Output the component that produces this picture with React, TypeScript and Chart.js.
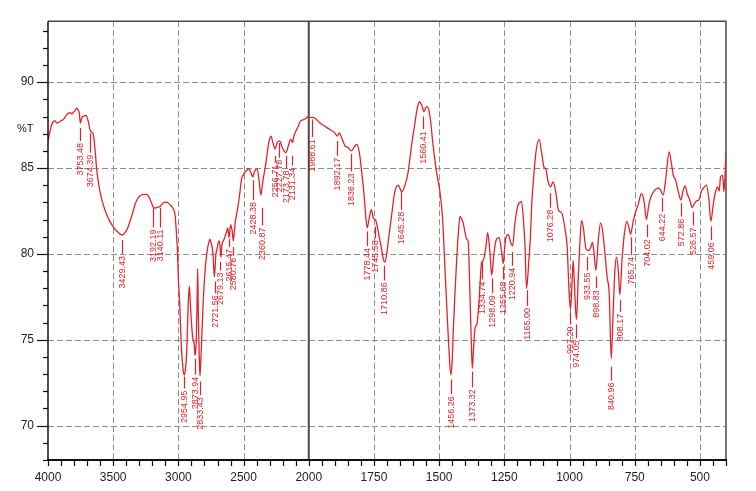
import { useEffect, useRef } from "react";
import { Chart, registerables } from "chart.js";

Chart.register(...registerables);

// ---- Spectrum data (wavenumber cm-1, %T) ----
const wavenumbers = [
  3999, 3990, 3975, 3959, 3945, 3933, 3920, 3908, 3895, 3883, 3870, 3857, 3843, 3831, 3818, 3806, 3793, 3780, 3770, 3760,
  3752, 3745, 3737, 3729, 3720, 3709, 3700, 3691, 3680, 3673, 3663, 3655, 3647, 3637, 3627, 3614, 3601, 3589, 3576, 3563,
  3550, 3530, 3511, 3490, 3473, 3455, 3435, 3420, 3410, 3390, 3371, 3350, 3333, 3314, 3294, 3270, 3243, 3225, 3205, 3192,
  3179, 3160, 3141, 3120, 3095, 3075, 3051, 3038, 3026, 3018, 3013, 3007, 3001, 2994, 2988, 2982, 2975, 2968, 2962, 2955,
  2949, 2942, 2936, 2930, 2924, 2916, 2910, 2904, 2898, 2890, 2884, 2880, 2876, 2873, 2868, 2862, 2856, 2852, 2848, 2843,
  2838, 2834, 2828, 2821, 2815, 2809, 2800, 2791, 2775, 2765, 2758, 2748, 2737, 2730, 2724, 2718, 2712, 2706, 2694, 2686,
  2679, 2673, 2668, 2662, 2656, 2647, 2637, 2630, 2622, 2617, 2612, 2606, 2599, 2592, 2587, 2579, 2572, 2566, 2554, 2541,
  2528, 2515, 2502, 2489, 2476, 2464, 2455, 2445, 2430, 2420, 2412, 2395, 2380, 2367, 2358, 2349, 2328, 2311, 2300, 2290,
  2275, 2259, 2247, 2234, 2221, 2208, 2190, 2175, 2157, 2139, 2124, 2114, 2093, 2080, 2067, 2042, 2020, 2004, 1995, 1989,
  1976, 1957, 1938, 1919, 1900, 1891, 1883, 1874, 1861, 1849, 1836, 1827, 1816, 1806, 1797, 1788, 1781, 1776, 1768, 1760,
  1753, 1746, 1742, 1734, 1721, 1714, 1708, 1701, 1695, 1682, 1670, 1657, 1650, 1644, 1631, 1619, 1606, 1593, 1585, 1576,
  1567, 1558, 1552, 1546, 1535, 1523, 1510, 1497, 1487, 1478, 1469, 1462, 1455, 1450, 1446, 1440, 1433, 1426, 1420, 1414,
  1408, 1400, 1395, 1389, 1382, 1377, 1373, 1368, 1363, 1354, 1346, 1337, 1331, 1321, 1314, 1308, 1303, 1299, 1294, 1290,
  1280, 1270, 1261, 1254, 1249, 1244, 1235, 1226, 1218, 1210, 1197, 1184, 1177, 1171, 1165, 1160, 1156, 1150, 1145, 1139,
  1129, 1117, 1107, 1098, 1091, 1082, 1073, 1063, 1053, 1043, 1030, 1018, 1009, 1001, 996, 990, 986, 982, 976, 973,
  967, 960, 954, 947, 937, 928, 919, 912, 907, 899, 890, 881, 873, 864, 856, 848, 840, 833, 826, 820,
  813, 807, 798, 790, 781, 772, 766, 756, 746, 737, 724, 714, 705, 696, 685, 673, 660, 651, 641, 631,
  618, 610, 602, 593, 583, 573, 564, 557, 549, 539, 530, 522, 513, 504, 494, 485, 475, 466, 458, 449,
  440, 432, 426, 421, 413, 408, 404, 400,
];

const transmittance = [
  86.6, 86.95, 87.45, 87.71, 87.75, 87.62, 87.65, 87.71, 87.78, 87.81, 87.95, 88.1, 88.2, 88.23, 88.15, 88.23, 88.35, 88.48, 88.4, 88.19,
  87.62, 87.8, 88.0, 88.0, 88.05, 88.06, 87.95, 87.71, 87.3, 87.14, 87.09, 87.0, 86.67, 85.9, 84.95, 84.2, 83.62, 83.2, 82.86, 82.55,
  82.29, 81.95, 81.71, 81.48, 81.33, 81.2, 81.1, 81.15, 81.24, 81.5, 81.9, 82.4, 82.86, 83.2, 83.39, 83.47, 83.47, 83.3, 82.95, 82.72,
  82.67, 82.72, 82.76, 82.95, 83.01, 82.95, 82.76, 82.6, 82.29, 81.6, 80.95, 80.19, 78.67, 77.7, 76.76, 75.5, 74.29, 73.6, 73.14, 72.95,
  73.1, 73.6, 74.29, 75.8, 77.2, 78.13, 77.4, 76.5, 75.81, 75.14, 74.9, 74.86, 74.4, 74.1, 74.3, 75.2, 77.5, 79.14, 77.0, 75.0,
  73.5, 72.9, 73.8, 75.05, 76.2, 77.33, 78.5, 79.43, 80.38, 80.7, 80.86, 80.6, 80.19, 79.4, 78.67, 79.3, 80.0, 80.19, 80.67, 80.76,
  80.3, 79.81, 80.4, 80.67, 80.76, 80.9, 81.14, 81.3, 81.52, 81.3, 80.95, 81.3, 81.71, 81.5, 81.33, 80.76, 81.2, 81.71, 82.3, 82.86,
  83.6, 84.38, 84.6, 84.76, 84.85, 84.95, 84.9, 84.76, 84.48, 84.7, 84.86, 84.95, 84.19, 83.43, 83.9, 84.38, 85.33, 86.29, 86.7, 86.86,
  86.48, 86.1, 86.38, 86.57, 86.57, 86.29, 86.0, 85.9, 86.29, 86.67, 86.48, 86.86, 87.24, 87.43, 87.71, 87.81, 87.9, 88.0, 87.95, 87.95,
  87.9, 87.62, 87.43, 87.24, 87.05, 86.86, 87.05, 86.76, 86.29, 86.19, 86.0, 86.19, 86.38, 85.9, 84.76, 83.43, 82.1, 81.52, 82.1, 82.57,
  82.1, 82.0, 81.9, 81.33, 80.3, 79.7, 79.52, 80.0, 80.76, 82.29, 83.62, 84.0, 83.8, 83.62, 84.0, 84.76, 86.29, 87.62, 88.4, 88.86,
  88.67, 88.29, 88.5, 88.57, 88.0, 86.29, 84.76, 83.62, 82.1, 79.24, 76.38, 74.3, 72.95, 73.8, 75.43, 77.5, 79.62, 81.3, 82.19, 82.05,
  81.81, 81.2, 80.86, 80.76, 77.71, 75.0, 73.33, 74.5, 75.62, 76.0, 77.52, 79.52, 79.62, 80.38, 81.24, 80.57, 79.6, 78.76, 79.3, 80.0,
  80.86, 80.95, 80.19, 79.43, 80.3, 80.95, 81.14, 80.67, 80.48, 81.71, 82.86, 83.05, 82.0, 80.57, 78.0, 78.7, 79.62, 81.0, 82.86, 84.19,
  85.9, 86.67, 85.9, 85.05, 84.95, 84.19, 83.9, 84.19, 83.62, 82.57, 82.38, 81.52, 80.38, 77.52, 76.76, 78.48, 79.62, 78.48, 76.57, 76.19,
  78.48, 80.76, 81.94, 81.52, 80.29, 80.19, 80.38, 80.67, 80.19, 79.05, 80.76, 81.81, 81.33, 80.0, 78.67, 77.71, 73.9, 76.57, 79.05, 79.81,
  79.05, 77.62, 79.81, 81.14, 81.9, 81.52, 81.14, 81.9, 82.48, 82.86, 83.52, 83.05, 82.0, 82.86, 83.43, 83.71, 83.85, 83.71, 83.43, 84.38,
  85.94, 85.33, 84.57, 84.29, 83.62, 83.14, 83.71, 83.96, 83.52, 83.14, 82.71, 82.9, 83.09, 83.14, 83.66, 83.85, 84.0, 83.24, 81.9, 82.86,
  83.62, 83.9, 83.66, 84.48, 84.57, 83.62, 84.57, 85.9,
];

// ---- Peak annotations ----
const peakLabels = [
  "3753.48", "3674.39", "3429.43", "3192.19", "3140.11", "2954.95", "2873.94", "2833.43", "2721.56", "2679.13",
  "2615.47", "2580.76", "2428.38", "2360.87", "2256.71", "2227.78", "2173.78", "2131.34", "1988.61", "1892.17",
  "1836.23", "1778.44", "1745.58", "1710.86", "1645.28", "1560.41", "1456.26", "1373.32", "1334.74", "1298.09",
  "1255.68", "1220.94", "1165.00", "1076.28", "997.20", "974.05", "933.55", "898.83", "840.96", "808.17",
  "765.74", "704.02", "644.22", "572.86", "526.57", "459.06",
];
// %T where each marker line starts and ends
const peakLineTop = [
  87.33, 87.03, 80.8, 82.69, 82.69, 72.86, 73.89, 72.57, 78.4, 79.54,
  80.86, 80.4, 84.29, 82.69, 85.71, 86.46, 85.71, 85.71, 87.83, 86.57,
  85.83, 81.31, 81.6, 79.31, 83.6, 88.0, 72.69, 73.14, 79.54, 78.57,
  79.26, 80.11, 77.89, 83.54, 76.57, 75.89, 79.83, 78.69, 73.43, 77.31,
  80.97, 81.71, 83.26, 82.97, 82.46, 81.6,
];
const peakLineBottom = [
  86.57, 85.89, 80.0, 81.54, 81.54, 72.17, 72.97, 71.77, 77.71, 79.03,
  80.4, 79.89, 83.14, 81.66, 85.31, 85.6, 84.97, 85.14, 86.8, 85.71,
  84.8, 80.46, 80.91, 78.46, 82.57, 87.26, 71.83, 72.23, 78.51, 77.71,
  78.51, 79.31, 76.97, 82.69, 75.89, 75.09, 79.03, 78.0, 72.63, 76.63,
  79.94, 80.97, 82.46, 82.17, 81.66, 80.8,
];

// ---- Axis ----
const yTickValues = [70, 75, 80, 85, 90];
const xTickLabels = [4000, 3500, 3000, 2500, 2000, 1750, 1500, 1250, 1000, 750, 500];
const Y_MIN = 68;
const Y_MAX = 93.55;
const X_LEFT = 4000;
const X_BREAK = 2000;
const X_RIGHT = 400;

// Spectrometer axis: 4000-2000 compressed by 2x, below 2000 full scale
function toPos(w: number): number {
  return w >= X_BREAK ? (X_LEFT - w) / 2 : (X_LEFT - X_BREAK) / 2 + (X_BREAK - w);
}
const POS_MAX = toPos(X_RIGHT);

const RED = "#e3232b";

const framePlugin = {
  id: "irFrame",
  beforeDatasetsDraw(chart: any) {
    const { ctx, chartArea: a, scales } = chart;
    const xs = scales.x;
    const ys = scales.y;
    ctx.save();
    // horizontal dashed grid
    ctx.strokeStyle = "#8e8e8e";
    ctx.lineWidth = 1;
    ctx.setLineDash([6, 3]);
    for (const v of yTickValues) {
      const y = Math.round(ys.getPixelForValue(v)) + 0.5;
      ctx.beginPath();
      ctx.moveTo(a.left, y);
      ctx.lineTo(a.right, y);
      ctx.stroke();
    }
    // vertical dashed grid
    for (const w of xTickLabels) {
      if (w === X_LEFT || w === X_BREAK) continue;
      const x = Math.round(xs.getPixelForValue(toPos(w))) + 0.5;
      ctx.beginPath();
      ctx.moveTo(x, a.top);
      ctx.lineTo(x, a.bottom);
      ctx.stroke();
    }
    ctx.setLineDash([]);
    // solid break line at 2000
    const xb = xs.getPixelForValue(toPos(X_BREAK));
    ctx.strokeStyle = "#4a4a4a";
    ctx.lineWidth = 2;
    ctx.beginPath();
    ctx.moveTo(xb, a.top);
    ctx.lineTo(xb, a.bottom);
    ctx.stroke();
    // top and right frame
    ctx.strokeStyle = "#4a4a4a";
    ctx.lineWidth = 1.5;
    ctx.beginPath();
    ctx.moveTo(a.left, a.top);
    ctx.lineTo(a.right, a.top);
    ctx.lineTo(a.right, a.bottom);
    ctx.stroke();
    ctx.restore();
  },
  afterDatasetsDraw(chart: any) {
    const { ctx, chartArea: a, scales } = chart;
    const xs = scales.x;
    const ys = scales.y;
    ctx.save();
    // axis lines
    ctx.strokeStyle = "#111";
    ctx.lineWidth = 1.5;
    ctx.beginPath();
    ctx.moveTo(a.left, a.top);
    ctx.lineTo(a.left, a.bottom);
    ctx.stroke();
    ctx.lineWidth = 2;
    ctx.beginPath();
    ctx.moveTo(a.left - 1, a.bottom);
    ctx.lineTo(a.right + 1, a.bottom);
    ctx.stroke();
    // y ticks every 1 %T
    ctx.lineWidth = 1.2;
    for (let v = Math.ceil(Y_MIN); v <= Math.floor(Y_MAX); v++) {
      const y = Math.round(ys.getPixelForValue(v)) + 0.5;
      const len = v % 5 === 0 ? 11 : 5;
      ctx.beginPath();
      ctx.moveTo(a.left - len, y);
      ctx.lineTo(a.left, y);
      ctx.stroke();
    }
    // x ticks every 50 axis units
    for (let p = 0; p <= POS_MAX + 0.01; p += 50) {
      const x = Math.round(xs.getPixelForValue(p)) + 0.5;
      ctx.beginPath();
      ctx.moveTo(x, a.bottom);
      ctx.lineTo(x, a.bottom + 6);
      ctx.stroke();
    }
    // %T title
    ctx.fillStyle = "#222";
    ctx.font = "11px 'Liberation Sans', Arial, sans-serif";
    ctx.textAlign = "left";
    ctx.textBaseline = "middle";
    ctx.fillText("%T", 17, ys.getPixelForValue(87.3));

    // peak labels
    ctx.strokeStyle = RED;
    ctx.fillStyle = RED;
    ctx.lineWidth = 1.2;
    ctx.font = "9px 'Liberation Sans', Arial, sans-serif";
    peakLabels.forEach((label, i) => {
      const x = Math.round(xs.getPixelForValue(toPos(Number(label)))) + 0.5;
      const y1 = ys.getPixelForValue(peakLineTop[i]);
      const y2 = ys.getPixelForValue(peakLineBottom[i]);
      ctx.beginPath();
      ctx.moveTo(x, y1);
      ctx.lineTo(x, y2);
      ctx.stroke();
      ctx.save();
      ctx.translate(x, y2 + 2);
      ctx.rotate(-Math.PI / 2);
      ctx.textAlign = "right";
      ctx.textBaseline = "middle";
      ctx.fillText(label, 0, 0);
      ctx.restore();
    });
    ctx.restore();
  },
};

export default function App() {
  const canvasRef = useRef<HTMLCanvasElement | null>(null);

  useEffect(() => {
    document.body.style.margin = "0";
    const canvas = canvasRef.current;
    if (!canvas) return;
    const points = wavenumbers.map((w, i) => ({ x: toPos(w), y: transmittance[i] }));
    const tickFont = { family: "'Liberation Sans', Arial, sans-serif", size: 12 };
    const chart = new Chart(canvas, {
      type: "line",
      data: {
        datasets: [
          {
            data: points,
            borderColor: RED,
            borderWidth: 1.3,
            pointRadius: 0,
            fill: false,
            cubicInterpolationMode: "monotone",
          },
        ],
      },
      options: {
        animation: false,
        responsive: false,
        maintainAspectRatio: false,
        events: [],
        layout: { padding: { top: 13, right: 30, left: 0, bottom: 0 } },
        plugins: { legend: { display: false }, tooltip: { enabled: false } },
        scales: {
          x: {
            type: "linear",
            min: 0,
            max: POS_MAX,
            grid: { display: false, drawTicks: false },
            border: { display: false },
            afterBuildTicks: (scale: any) => {
              scale.ticks = xTickLabels.map((w) => ({ value: toPos(w) }));
            },
            afterFit: (scale: any) => {
              scale.height = 31;
            },
            ticks: {
              autoSkip: false,
              maxRotation: 0,
              padding: 10,
              color: "#1e1e1e",
              font: tickFont,
              callback: (_v: any, idx: number) => String(xTickLabels[idx]),
            },
          },
          y: {
            type: "linear",
            min: Y_MIN,
            max: Y_MAX,
            grid: { display: false, drawTicks: false },
            border: { display: false },
            afterBuildTicks: (scale: any) => {
              scale.ticks = yTickValues.map((v) => ({ value: v }));
            },
            afterFit: (scale: any) => {
              scale.width = 48;
            },
            ticks: {
              padding: 14,
              color: "#1e1e1e",
              font: tickFont,
              callback: (v: any) => String(v),
            },
          },
        },
      },
      plugins: [framePlugin],
    });
    return () => chart.destroy();
  }, []);

  return (
    <div style={{ position: "absolute", left: 0, top: 0, width: 756, height: 491, background: "#fff" }}>
      <canvas ref={canvasRef} width={756} height={491} />
    </div>
  );
}
